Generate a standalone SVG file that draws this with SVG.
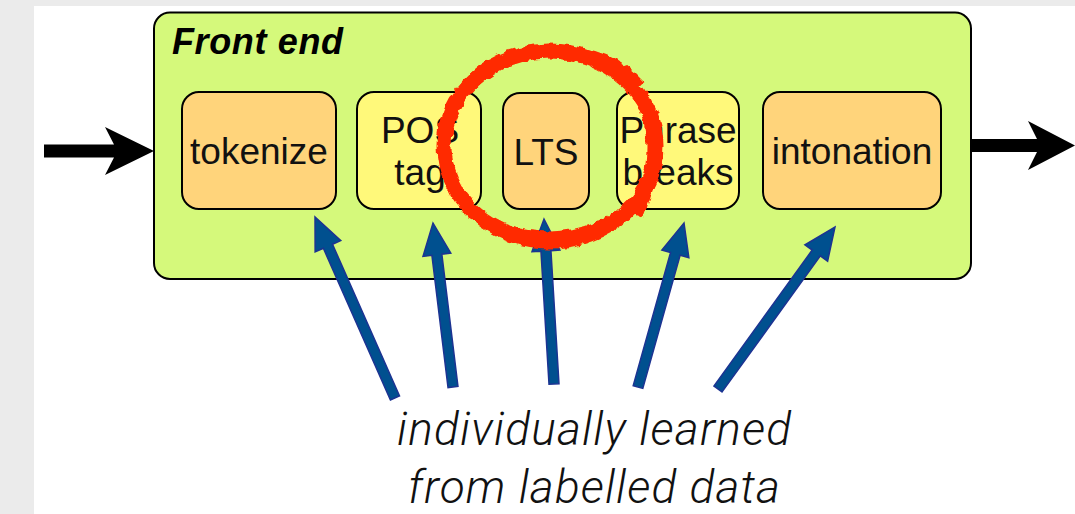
<svg xmlns="http://www.w3.org/2000/svg" width="1075" height="514" viewBox="0 0 1075 514">
<style>
.box{stroke:#000;stroke-width:2}
.orange{fill:#ffd47b}
.yellow{fill:#fff97a}
.lbl{font-family:"Liberation Sans",Arial,sans-serif;font-size:37px;fill:#111;text-anchor:middle}
.blue{fill:#00508f;stroke:#1c3392;stroke-width:1.5;stroke-linejoin:miter}
.cap{font-family:Roboto,"Liberation Sans",Arial,sans-serif;font-weight:300;font-style:italic;font-size:46px;fill:#111;text-anchor:middle}
.red{fill:none;stroke:#ff2a00}
</style>
<defs>
<filter id="rough" x="-10%" y="-10%" width="120%" height="120%">
<feTurbulence type="fractalNoise" baseFrequency="0.11" numOctaves="2" seed="3" result="n"/>
<feDisplacementMap in="SourceGraphic" in2="n" scale="7" xChannelSelector="R" yChannelSelector="G"/>
</filter>
</defs>
<rect x="0" y="0" width="1075" height="514" fill="#ebebeb"/>
<rect x="34" y="6" width="1041" height="508" fill="#ffffff"/>
<g id="front-end">
<rect class="box" x="154" y="12.5" width="817" height="266.5" rx="16" fill="#d5f97b"/>
<text x="172" y="54" font-family="Liberation Sans,Arial,sans-serif" font-weight="bold" font-style="italic" font-size="36" textLength="171" fill="#000">Front end</text>
</g>
<g id="tokenize">
<rect class="box orange" x="182" y="92" width="154" height="117" rx="17"/>
<text class="lbl" x="259" y="164">tokenize</text>
</g>
<g id="pos-tag">
<rect class="box yellow" x="357" y="92" width="124" height="117" rx="17"/>
<text class="lbl" x="420" y="143" font-size="36">POS</text>
<text class="lbl" x="420" y="185" font-size="36">tag</text>
</g>
<g id="lts">
<rect class="box orange" x="503" y="93" width="86" height="116" rx="17"/>
<text class="lbl" x="546" y="165">LTS</text>
</g>
<g id="phrase-breaks">
<rect class="box yellow" x="617" y="92" width="122" height="117" rx="17"/>
<text class="lbl" x="678" y="143" font-size="35">Phrase</text>
<text class="lbl" x="678" y="185" font-size="35">breaks</text>
</g>
<g id="intonation">
<rect class="box orange" x="763" y="92" width="178" height="117" rx="17"/>
<text class="lbl" x="852" y="164">intonation</text>
</g>
<g id="connectors">
<polygon fill="#000" points="44,144.5 114,144.5 105,127 154,151 105,175 114,157.5 44,157.5"/>
<polygon fill="#000" points="971,139 1037,139 1028,121 1075,145.5 1028,170 1037,152 971,152"/>
<polygon class="blue" points="399.57,395.98 332.51,244.25 340.74,240.61 315,217 315.14,251.93 323.37,248.29 390.43,400.02"/>
<polygon class="blue" points="457.96,386.39 441.84,254.16 450.78,253.07 433,223 422.98,256.47 431.92,255.38 448.04,387.61"/>
<polygon class="blue" points="558.99,383.70 550.93,250.64 559.91,250.09 544,219 531.97,251.79 540.95,251.24 549.01,384.30"/>
<polygon class="blue" points="642.82,388.35 680.18,255.17 688.84,257.60 684,223 661.88,250.04 670.55,252.47 633.19,385.65"/>
<polygon class="blue" points="722.05,391.93 820.31,255.88 827.61,261.15 835,227 804.91,244.75 812.21,250.02 713.95,386.07"/>
</g>
<g id="red-circle" filter="url(#rough)">
<ellipse class="red" cx="550" cy="146" rx="106" ry="95" stroke-width="15"/>
<path class="red" d="M 520 54 Q 600 40 640 85" stroke-width="10"/>
<path class="red" d="M 636 90 Q 668 140 638 215" stroke-width="12"/>
<path class="red" d="M 470 215 Q 540 250 600 225" stroke-width="8"/>
</g>
<g id="caption">
<text class="cap" x="594" y="445" textLength="394">individually learned</text>
<text class="cap" x="594" y="503" textLength="372">from labelled data</text>
</g>
</svg>
